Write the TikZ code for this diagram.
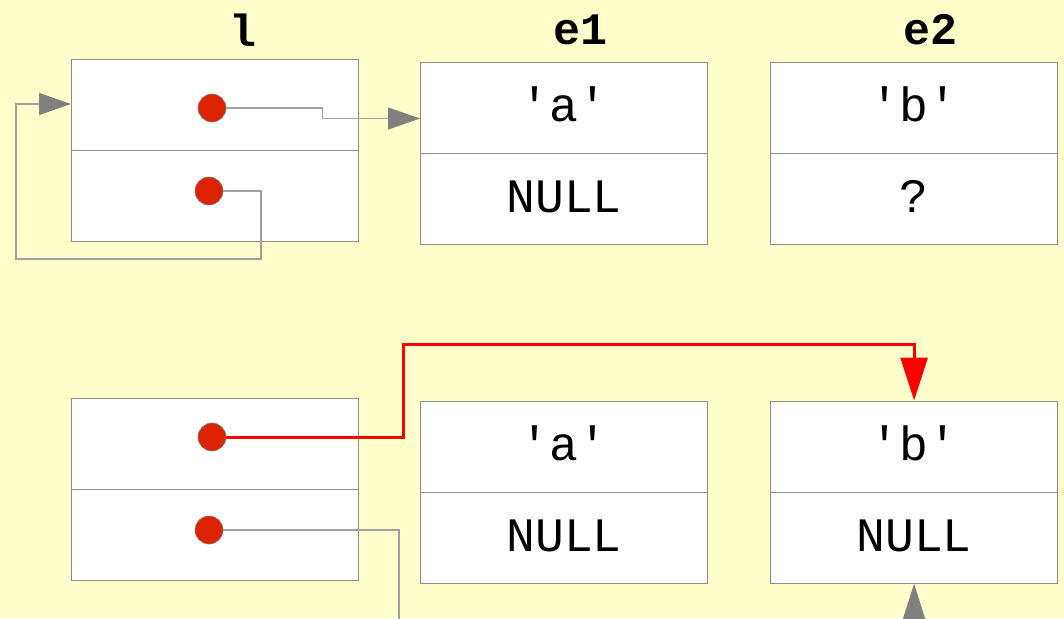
\documentclass[tikz,border=0pt]{standalone}
\usepackage{fontspec}
\usetikzlibrary{arrows.meta}
\newfontfamily\monof{Liberation Mono}
\newcommand\qt{\char39\relax}
\definecolor{bgyel}{HTML}{FFFFCC}
\definecolor{boxgray}{HTML}{8C8C8C}
\definecolor{linegray}{HTML}{A0A0A0}
\definecolor{tipgray}{HTML}{808080}
\definecolor{dotred}{HTML}{DD2200}
\tikzset{
  cell/.style={draw=boxgray, line width=1.2pt, fill=white, minimum width=287pt, minimum height=91pt, inner sep=0pt, text height=35pt, text depth=8pt, anchor=north west, font=\monof\fontsize{48}{48}\selectfont},
  dotnode/.style={circle, fill=dotred, draw=gray, line width=0.6pt, minimum size=28pt, inner sep=0pt},
  heading/.style={font=\monof\bfseries\fontsize{45}{45}\selectfont, inner sep=0pt},
  conn/.style={draw=linegray, line width=1.2pt},
  gtip/.style={-{Triangle[length=32pt,width=22pt,color=tipgray]}},
  gbigtip/.style={-{Triangle[length=43pt,width=27pt,color=tipgray]}},
  redconn/.style={draw=red, line width=3pt, -{Triangle[length=43pt,width=27pt,color=red]}}
}
\begin{document}
\begin{tikzpicture}[x=1pt,y=-1pt]
\useasboundingbox[fill=bgyel] (0,0) rectangle (1064,618);
% headings
\node[heading] (hl) at (243,30) {l};
\node[heading] (he1) at (580,30) {e1};
\node[heading] (he2) at (930,30) {e2};
% top row boxes
\node[cell] (l1a) at (71,58.5) {};
\node[cell] (l1b) at (71,149.5) {};
\node[cell] (e1a) at (420,61.5) {\qt a\qt};
\node[cell] (e1b) at (420,152.5) {NULL};
\node[cell] (e2a) at (770,61.5) {\qt b\qt};
\node[cell] (e2b) at (770,152.5) {?};
% bottom row boxes
\node[cell] (l2a) at (71,397.5) {};
\node[cell] (l2b) at (71,488.5) {};
\node[cell] (f1a) at (420,400.5) {\qt a\qt};
\node[cell] (f1b) at (420,491.5) {NULL};
\node[cell] (f2a) at (770,400.5) {\qt b\qt};
\node[cell] (f2b) at (770,491.5) {NULL};
% dots
\node[dotnode] (d1) at (212,108) {};
\node[dotnode] (d2) at (209,191) {};
\node[dotnode] (d3) at (212,437) {};
\node[dotnode] (d4) at (209,530) {};
% top connectors
\coordinate (b1) at (322.5,118.5);
\draw[conn, gtip] (d1.east) -| (b1) -- (e1a.west |- b1);
\coordinate (c1) at (261,259);
\coordinate (c2) at (16,104);
\draw[conn, gtip] (d2.east) -| (c1) -| (c2) -- (l1a.west |- c2);
% bottom connectors
\coordinate (r1) at (403,344);
\draw[redconn] (d3.east) -| (r1) -| (f2a.north);
\coordinate (g1) at (399,625);
\draw[conn] (d4.east) -| (g1);
\coordinate (g2) at (914,680);
\draw[conn, gbigtip] (g2) -- (f2b.south);
\end{tikzpicture}
\end{document}
